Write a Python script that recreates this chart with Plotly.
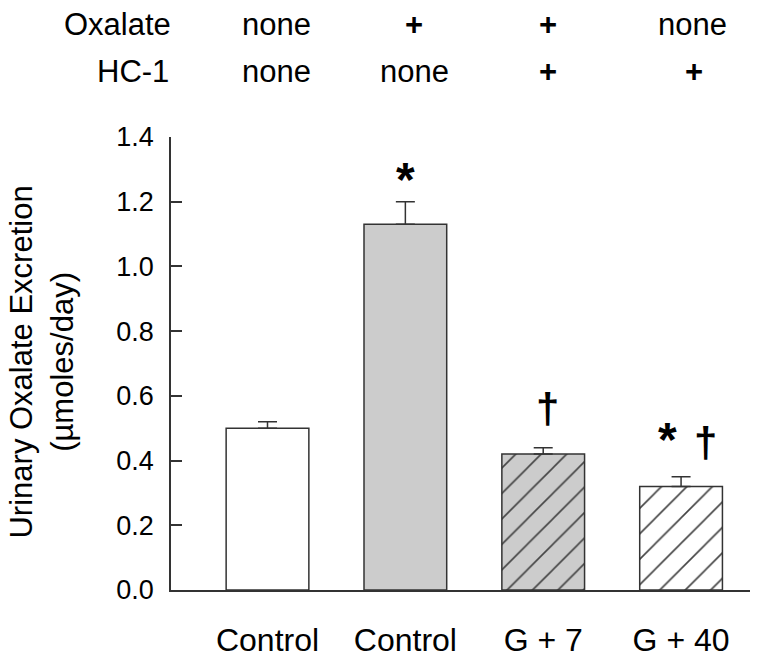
import plotly.graph_objects as go

# ---- data ----
categories = ["Control", "Control", "G + 7", "G + 40"]
values = [0.50, 1.13, 0.42, 0.32]
err_top = [0.52, 1.20, 0.44, 0.35]
oxalate_row = ["none", "+", "+", "none"]
hc1_row = ["none", "none", "+", "+"]
y_ticks = [0.0, 0.2, 0.4, 0.6, 0.8, 1.0, 1.2, 1.4]

# ---- styling ----
FONT = "Liberation Sans, Arial, sans-serif"
W, H = 762, 670
# plot area in page pixels: x 171..750, y 137..600
ML, MR, MT, MB = 171, W - 750, 137, H - 601
PW, PH = W - ML - MR, H - MT - MB

fills = ["#ffffff", "#cccccc", "#cccccc", "#ffffff"]
shapes = ["", "", "/", "/"]


def px_x(px):
    return (px - ML) / PW


def px_y(py):
    return (H - MB - py) / PH


xpos = list(range(len(categories)))
errs = [t - v for t, v in zip(err_top, values)]

fig = go.Figure()
fig.add_trace(go.Bar(
    x=xpos, y=values, width=0.6,
    marker=dict(
        color=fills,
        line=dict(color="#333333", width=1.5),
        pattern=dict(shape=shapes, fgcolor="#000000", fgopacity=1,
                     size=18, solidity=0.09),
    ),
    error_y=dict(type="data", symmetric=False, array=errs,
                 arrayminus=[0] * len(values), color="#333333",
                 thickness=1.5, width=9.5),
    showlegend=False,
))

annotations = []
TXT = dict(size=31, family=FONT, color="black")
col_px_ox = [276, 414, 548, 692]
col_px_hc = [276, 414, 548, 694]
row_py = [22, 70]
annotations.append(dict(text="Oxalate", x=px_x(173), y=px_y(row_py[0]),
                        xref="paper", yref="paper", xanchor="right", yanchor="middle",
                        showarrow=False, font=TXT))
annotations.append(dict(text="HC-1", x=px_x(171), y=px_y(row_py[1]),
                        xref="paper", yref="paper", xanchor="right", yanchor="middle",
                        showarrow=False, font=TXT))
for row, cols, ry in [(oxalate_row, col_px_ox, row_py[0]), (hc1_row, col_px_hc, row_py[1])]:
    for t, cx in zip(row, cols):
        txt = "<b>+</b>" if t == "+" else t
        annotations.append(dict(text=txt, x=px_x(cx), y=px_y(ry),
                                xref="paper", yref="paper", xanchor="center", yanchor="middle",
                                showarrow=False, font=TXT))

# significance markers
sig = [
    ("<b>*</b>", 1.0, 1.27, 48),
    ("<b>†</b>", 2.03, 0.56, 42),
    ("<b>*</b>", 2.905, 0.465, 48),
    ("<b>†</b>", 3.18, 0.455, 42),
]
for t, sx, sy, fs in sig:
    annotations.append(dict(text=t, x=sx, y=sy, xref="x", yref="y",
                            xanchor="center", yanchor="middle", showarrow=False,
                            font=dict(size=fs, family=FONT, color="black")))

# y-axis title
annotations.append(dict(text="Urinary Oxalate Excretion<br>(µmoles/day)",
                        x=px_x(42), y=px_y(368),
                        xref="paper", yref="paper", xanchor="center", yanchor="middle",
                        textangle=-90, showarrow=False, font=TXT))

fig.update_layout(
    width=W, height=H,
    margin=dict(l=ML, r=MR, t=MT, b=MB, pad=0),
    plot_bgcolor="white", paper_bgcolor="white",
    font=dict(family=FONT, color="black"),
    annotations=annotations,
    xaxis=dict(range=[-0.7, 3.5], tickvals=xpos, ticktext=categories,
               showline=True, linecolor="#333333", linewidth=1.5,
               ticks="", showgrid=False, zeroline=False,
               tickfont=dict(size=32, family=FONT, color="black"),
               ticklabelstandoff=21),
    yaxis=dict(range=[0, 1.4], tickvals=y_ticks, tickformat=".1f",
               showline=True, linecolor="#333333", linewidth=1.5,
               ticks="inside", ticklen=11, tickwidth=1.5, tickcolor="#333333",
               showgrid=False, zeroline=False,
               tickfont=dict(size=27, family=FONT, color="black"),
               ticklabelstandoff=10),
)

fig.write_html(
    "out.html",
    config={"displayModeBar": False},
    post_script="document.body.style.margin='0';document.body.style.overflow='hidden';",
)
